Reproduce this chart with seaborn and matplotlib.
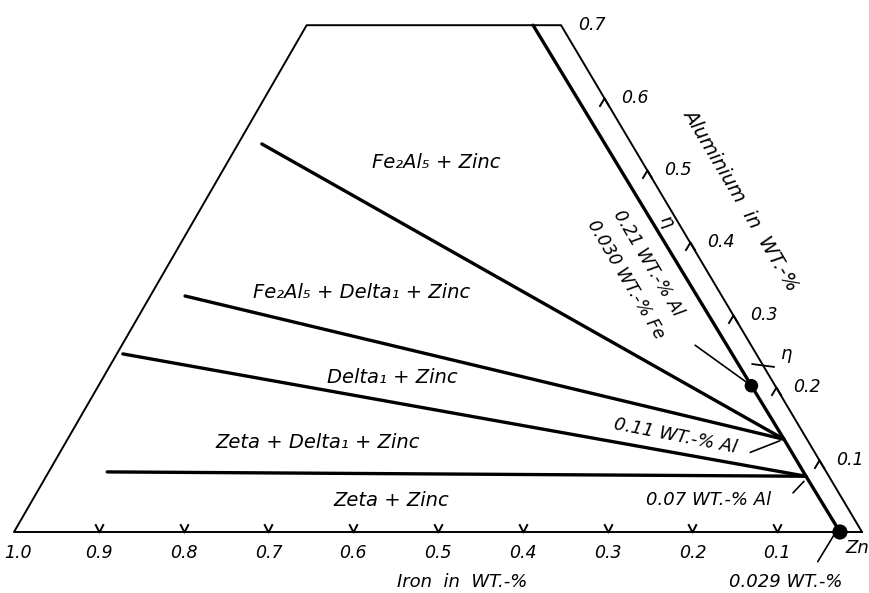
import matplotlib
matplotlib.use("Agg")
import matplotlib.pyplot as plt
import seaborn as sns
import pandas as pd
from matplotlib.path import Path

# Fe-Al-Zn corner, all values in WT.-%
fe_ticks = [1.0, 0.9, 0.8, 0.7, 0.6, 0.5, 0.4, 0.3, 0.2, 0.1]
al_ticks = [0.7, 0.6, 0.5, 0.4, 0.3, 0.2, 0.1]

# outline: Fe axis, Fe+Al=1 edge, Al=0.7 top, Al axis
frame_fe = [0.0, 1.0, 0.3, 0.0, 0.0]
frame_al = [0.0, 0.0, 0.7, 0.7, 0.0]

# zinc liquid boundary (eta field is the strip to the right)
liquid_fe = [0.026, 0.027, 0.027, 0.028, 0.033]
liquid_al = [0.0, 0.077, 0.128, 0.202, 0.70]

# tie lines to the zinc boundary
tie_fe_start = [0.436, 0.633, 0.747, 0.848]
tie_al_start = [0.536, 0.326, 0.246, 0.083]
tie_fe_end = [0.027, 0.027, 0.027, 0.027]
tie_al_end = [0.128, 0.128, 0.077, 0.077]

# marked compositions
dot_fe = [0.026, 0.028]
dot_al = [0.0, 0.202]

SKEW = 0.507  # horizontal shift of the Al axis per unit Al


def proj(fe, al):
    return fe + SKEW * al, al


sns.set_theme(style="white")
plt.rcParams['font.family'] = ['DejaVu Sans']
plt.rcParams['font.style'] = 'italic'
plt.rcParams['text.color'] = 'black'

fig = plt.figure(figsize=(8.69, 5.93), dpi=100)
ax = fig.add_axes([0, 0, 1, 1])

rows = []
for i, (f, a) in enumerate(zip(frame_fe, frame_al)):
    x, y = proj(f, a)
    rows.append(('frame', i, x, y))
frame_df = pd.DataFrame(rows, columns=['line', 'order', 'x', 'y'])

rows = []
for i, (f, a) in enumerate(zip(liquid_fe, liquid_al)):
    x, y = proj(f, a)
    rows.append(('liquid', i, x, y))
for k in range(len(tie_fe_start)):
    for i, (f, a) in enumerate([(tie_fe_start[k], tie_al_start[k]), (tie_fe_end[k], tie_al_end[k])]):
        x, y = proj(f, a)
        rows.append((f'tie{k}', i, x, y))
heavy_df = pd.DataFrame(rows, columns=['line', 'order', 'x', 'y'])

sns.lineplot(data=frame_df, x='x', y='y', units='line', estimator=None, sort=False,
             color='black', lw=1.4, ax=ax)
sns.lineplot(data=heavy_df, x='x', y='y', units='line', estimator=None, sort=False,
             color='black', lw=2.4, ax=ax)

dx, dy = proj(pd.Series(dot_fe), pd.Series(dot_al))
sns.scatterplot(x=dx, y=dy, color='black', s=[120, 95], linewidth=0,
                zorder=5, ax=ax, legend=False)

# tick marks
v_mark = Path([(-0.5, 1), (0, 0), (0.5, 1)], [Path.MOVETO, Path.LINETO, Path.LINETO])
a_mark = Path([(-0.6, -1), (0, 0), (0.6, -1)], [Path.MOVETO, Path.LINETO, Path.LINETO])
fx, fy = proj(pd.Series(fe_ticks[1:]), 0.0)
ax.plot(fx, [0.0] * len(fx), ls='none', marker=v_mark, ms=12, mfc='none', mec='black', mew=1.4)
ax_, ay_ = proj(0.0, pd.Series(al_ticks[1:]))
ax.plot(ax_, ay_, ls='none', marker=a_mark, ms=12, mfc='none', mec='black', mew=1.4)

for f in fe_ticks:
    ax.annotate(f'{f:.1f}', proj(f, 0.0), xytext=(3 if f == 1.0 else 0, -15),
                textcoords='offset points', ha='center', va='center', fontsize=12.5)
for a in al_ticks:
    ax.annotate(f'{a:.1f}', proj(0.0, a), xytext=(22, 0),
                textcoords='offset points', ha='center', va='center', fontsize=12.5)

# eta boundary mark and leader lines
lx, ly = proj(pd.Series([0.012, -0.012]), pd.Series([0.232, 0.228]))
ax.plot(lx, ly, color='black', lw=1.3)
for f0, a0, f1, a1 in [(0.066, 0.258, 0.028, 0.202),
                       (0.076, 0.110, 0.033, 0.126),
                       (0.054, 0.054, 0.033, 0.070),
                       (0.073, -0.041, 0.035, -0.004)]:
    lx, ly = proj(pd.Series([f0, f1]), pd.Series([a0, a1]))
    ax.plot(lx, ly, color='black', lw=1.2)

labels = [
    (0.243, 0.511, 'Fe\u2082Al\u2085 + Zinc'),
    (0.422, 0.331, 'Fe\u2082Al\u2085 + Delta\u2081 + Zinc'),
    (0.446, 0.213, 'Delta\u2081 + Zinc'),
    (0.579, 0.124, 'Zeta + Delta\u2081 + Zinc'),
    (0.533, 0.044, 'Zeta + Zinc'),
]
for f, a, s in labels:
    ax.text(*proj(f, a), s, ha='center', va='center', fontsize=14)

notes = [
    (0.064, 0.372, '0.21 WT.-% Al', -59.3, 12.5),
    (0.102, 0.349, '0.030 WT.-% Fe', -59.3, 12.5),
    (0.153, 0.1326, '0.11 WT.-% Al', -11, 13),
    (0.159, 0.044, '0.07 WT.-% Al', 0, 13),
    (0.1247, -0.069, '0.029 WT.-%', 0, 13),
    (0.017, -0.022, 'Zn', 0, 13),
    (-0.0899, 0.4586, 'Aluminium  in  WT.-%', -59.3, 14),
    (0.507, -0.069, 'Iron  in  WT.-%', 0, 13),
    (0.013, 0.428, '\u03b7', -59.3, 13),
    (-0.036, 0.246, '\u03b7', 0, 13),
]
for f, a, s, r, size in notes:
    ax.text(*proj(f, a), s, ha='center', va='center', fontsize=size,
            rotation=r, rotation_mode='anchor')

ax.set_xlim(862 / 848, -7 / 848)
ax.set_ylim(-61 / 724, 532 / 724)
ax.set_axis_off()

fig.savefig('out.png', dpi=100, facecolor='white')
